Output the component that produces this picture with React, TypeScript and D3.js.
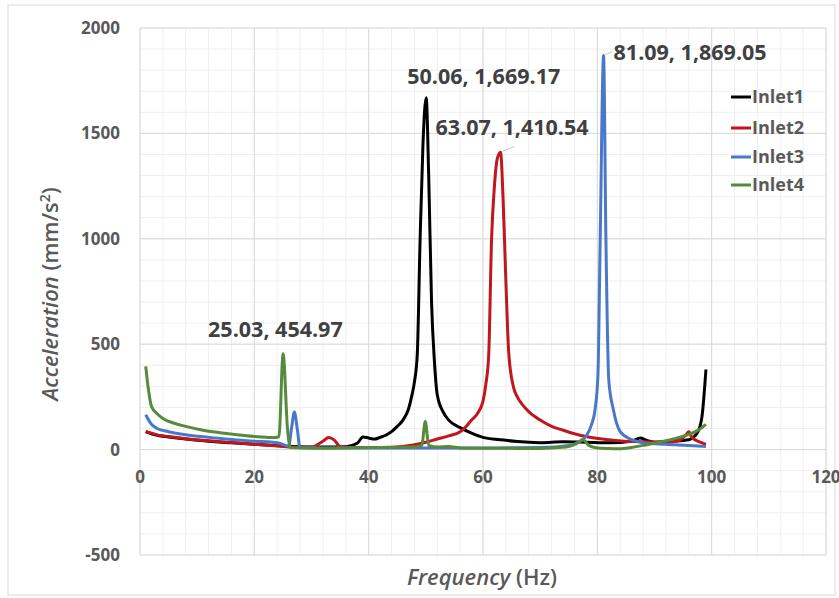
import React from "react";
import * as d3 from "d3";

// values (Hz, mm/s²)
const inlet1F = [1, 2, 3, 5, 8, 12, 16, 20, 24, 28, 32, 36, 38, 39, 40, 41, 42, 43, 44, 45, 46, 47, 47.5, 48, 48.5, 49, 49.5, 50.06, 50.5, 51, 51.5, 52, 53, 54, 56, 58, 60, 63, 66, 70, 74, 78, 82, 86, 87.5, 88.5, 90, 93, 96, 97.5, 98.3, 99];
const inlet1V = [85, 75, 68, 60, 50, 40, 32, 25, 18, 14, 12, 14, 30, 60, 55, 50, 58, 68, 85, 110, 140, 195, 250, 320, 450, 1000, 1450, 1669.17, 1300, 700, 420, 260, 180, 140, 104, 78, 58, 47, 38, 33, 37, 35, 32, 40, 55, 45, 35, 40, 47, 80, 156, 380];

const inlet2F = [1, 2, 3, 5, 8, 12, 16, 20, 24, 26, 28, 30, 32, 33, 34, 35, 38, 42, 46, 50, 52, 54, 56, 57, 58, 59, 60, 60.5, 61, 61.5, 62, 62.5, 63.07, 63.5, 64, 64.5, 65.3, 66, 67, 68, 70, 72, 74, 76, 78, 82, 86, 90, 94, 95.5, 96, 96.5, 98, 99];
const inlet2V = [85, 78, 70, 62, 52, 42, 34, 25, 18, 12, 10, 12, 40, 57, 45, 15, 10, 10, 15, 35, 50, 65, 85, 108, 140, 170, 230, 310, 450, 1000, 1250, 1380, 1410.54, 1200, 800, 460, 300, 250, 210, 180, 140, 110, 92, 75, 62, 47, 38, 36, 40, 70, 85, 60, 35, 25];

const inlet3F = [1, 2, 3, 5, 8, 12, 16, 20, 24, 25, 26, 26.5, 27, 27.5, 28, 32, 40, 50, 60, 70, 75, 77, 78, 79, 79.6, 80.1, 80.5, 81.09, 81.5, 82, 82.8, 84, 86, 88, 92, 96, 99];
const inlet3V = [165, 120, 100, 85, 70, 58, 48, 40, 32, 25, 15, 100, 178, 100, 10, 8, 8, 8, 8, 10, 20, 40, 62, 120, 190, 350, 995, 1869.05, 1000, 330, 190, 85, 47, 33, 25, 20, 15];

const inlet4F = [1, 1.5, 2, 3, 4, 6, 8, 11, 14, 17, 20, 23, 24.3, 25.03, 25.8, 26.3, 28, 32, 36, 40, 44, 48, 49.3, 49.9, 50.5, 52, 54, 56, 60, 64, 68, 72, 75, 76.5, 77.5, 78.5, 80, 82, 84, 86, 88, 90, 92, 94, 96, 97.5, 99];
const inlet4V = [395, 280, 205, 170, 148, 125, 110, 92, 80, 70, 62, 57, 60, 454.97, 100, 10, 8, 6, 8, 10, 10, 12, 20, 133, 20, 12, 15, 8, 6, 6, 5, 8, 15, 30, 47, 20, 8, 5, 4, 10, 20, 30, 42, 55, 72, 90, 120];

const seriesNames = ["Inlet1", "Inlet2", "Inlet3", "Inlet4"];
const seriesColors = ["#000000", "#c0161c", "#4a78c8", "#558b3b"];
const xTicks = [0, 20, 40, 60, 80, 100, 120];
const yTicks = [-500, 0, 500, 1000, 1500, 2000];
const peakLabels = ["50.06, 1,669.17", "63.07, 1,410.54", "81.09, 1,869.05", "25.03, 454.97"];

const W = 839;
const H = 598;
const left = 140;
const right = 826;
const top = 28;
const bottom = 555;

export default function App() {
  const x = d3.scaleLinear().domain([0, 120]).range([left, right]);
  const y = d3.scaleLinear().domain([-500, 2000]).range([bottom, top]);

  const all = [
    { f: inlet1F, v: inlet1V },
    { f: inlet2F, v: inlet2V },
    { f: inlet3F, v: inlet3V },
    { f: inlet4F, v: inlet4V },
  ];

  const line = d3
    .line<[number, number]>()
    .x((d) => x(d[0]))
    .y((d) => y(d[1]))
    .curve(d3.curveMonotoneX);

  const minorX = d3.range(0, 121, 4);
  const minorY = d3.range(-500, 2001, 100);

  // label offsets from each peak
  const peaks = [
    { f: 50.06, v: 1669.17, dx: -19, dy: -14, lead: false },
    { f: 63.07, v: 1410.54, dx: -65, dy: -17, lead: true },
    { f: 81.09, v: 1869.05, dx: 10, dy: 4, lead: true },
    { f: 25.03, v: 454.97, dx: -75, dy: -17, lead: false },
  ];

  const font = "'Open Sans', sans-serif";

  return (
    <svg
      width={W}
      height={H}
      style={{ position: "absolute", left: 0, top: 0, background: "#fff" }}
    >
      <rect x={8} y={5} width={827} height={590} fill="#fff" stroke="#d9d9d9" />

      {/* minor grid */}
      {minorX.map((t) => (
        <line key={"mx" + t} x1={x(t)} x2={x(t)} y1={top} y2={bottom} stroke="#efefef" strokeWidth={1} />
      ))}
      {minorY.map((t) => (
        <line key={"my" + t} x1={left} x2={right} y1={y(t)} y2={y(t)} stroke="#efefef" strokeWidth={1} />
      ))}
      {/* major grid */}
      {xTicks.map((t) => (
        <line key={"gx" + t} x1={x(t)} x2={x(t)} y1={top} y2={bottom} stroke="#d9d9d9" strokeWidth={1} />
      ))}
      {yTicks.map((t) => (
        <line key={"gy" + t} x1={left} x2={right} y1={y(t)} y2={y(t)} stroke="#d9d9d9" strokeWidth={1} />
      ))}

      {/* tick labels */}
      {yTicks.map((t) => (
        <text
          key={"ty" + t}
          x={120}
          y={y(t)}
          dy="0.35em"
          textAnchor="end"
          fontFamily={font}
          fontWeight={700}
          fontSize={17}
          fill="#595959"
        >
          {t}
        </text>
      ))}
      {xTicks.map((t) => (
        <text
          key={"tx" + t}
          x={x(t)}
          y={477}
          dy="0.35em"
          textAnchor="middle"
          fontFamily={font}
          fontWeight={700}
          fontSize={17}
          fill="#595959"
        >
          {t}
        </text>
      ))}

      {/* series */}
      {all.map((s, i) => (
        <path
          key={seriesNames[i]}
          d={line(s.f.map((f, j) => [f, s.v[j]] as [number, number])) || ""}
          fill="none"
          stroke={seriesColors[i]}
          strokeWidth={3}
          strokeLinejoin="round"
        />
      ))}

      {/* peak labels */}
      {peaks.map((p, i) => {
        const px = x(p.f);
        const py = y(p.v);
        return (
          <g key={"pk" + i}>
            {p.lead && (
              <line x1={px + 2} y1={py - 1} x2={px + (i === 1 ? 14 : 9)} y2={py - (i === 1 ? 6 : 4)} stroke="#c8c8c8" strokeWidth={1} />
            )}
            <text
              x={px + p.dx}
              y={py + p.dy}
              fontFamily={font}
              fontWeight={700}
              fontSize={21.5}
              fill="#404040"
            >
              {peakLabels[i]}
            </text>
          </g>
        );
      })}

      {/* legend */}
      {seriesNames.map((n, i) => {
        const ly = [97, 128, 157, 185][i];
        return (
          <g key={"lg" + n}>
            <line x1={731} x2={751} y1={ly} y2={ly} stroke={seriesColors[i]} strokeWidth={3} />
            <text
              x={752}
              y={ly}
              dy="0.35em"
              fontFamily={font}
              fontWeight={700}
              fontSize={18}
              fill="#595959"
            >
              {n}
            </text>
          </g>
        );
      })}

      {/* axis titles */}
      <text
        x={482}
        y={577}
        dy="0.35em"
        textAnchor="middle"
        fontFamily={font}
        fontWeight={600}
        fontSize={22}
        fill="#595959"
      >
        <tspan fontStyle="italic">Frequency</tspan> (Hz)
      </text>
      <text
        transform="translate(50,294) rotate(-90)"
        textAnchor="middle"
        dy="0.35em"
        fontFamily={font}
        fontWeight={600}
        fontSize={22}
        fill="#595959"
      >
        <tspan fontStyle="italic">Acceleration</tspan> (mm/s
        <tspan fontSize={14} dy="-8">2</tspan>
        <tspan dy="8">)</tspan>
      </text>
    </svg>
  );
}
